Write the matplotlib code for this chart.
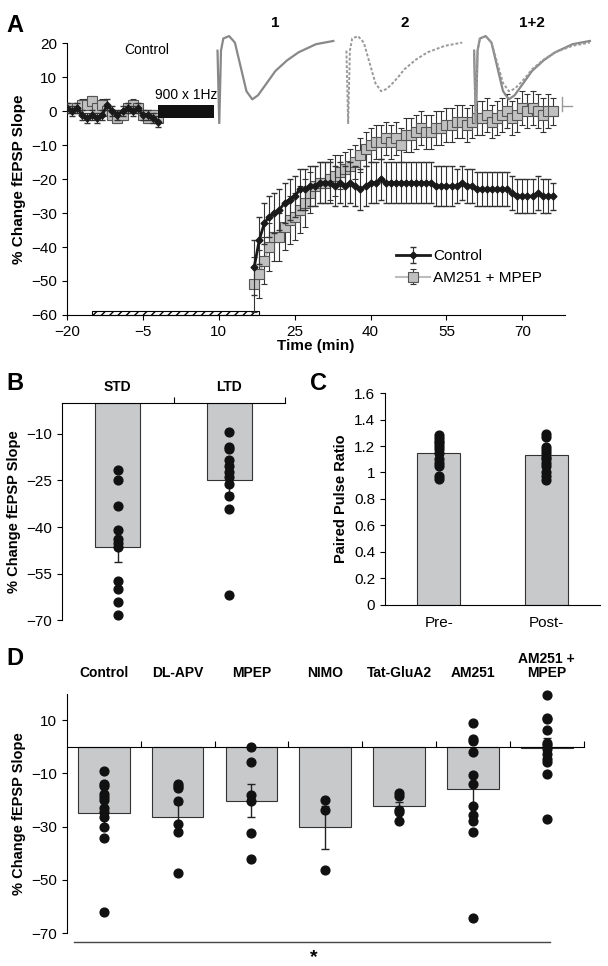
import numpy as np
import matplotlib.pyplot as plt

plt.rcParams['font.family'] = ['Liberation Sans', 'DejaVu Sans']
plt.rcParams['font.size'] = 11

# ---------------- Panel A data ----------------
base_t = list(range(-20, -1))
ctrl_base = [1, 0, 1, -1, -2, -1, -2, -1, 2, 0, -1, 0, 1, 0, 1, -1, -1, -2, -3]
drug_base = [1, 1, 1, 2, 2, 3, 1, 2, 0, -1, -2, -1, 1, 2, 1, -1, -2, -1, -2]
base_err = [1.5] * 19

post_t = list(range(17, 77))
ctrl_post = [-46, -38, -33, -31, -30, -29, -27, -26, -25, -23,
             -23, -22, -22, -21, -21, -21, -22, -21, -22, -21,
             -22, -23, -22, -21, -21, -20, -21, -21, -21, -21,
             -21, -21, -21, -21, -21, -21, -22, -22, -22, -22,
             -22, -21, -22, -22, -23, -23, -23, -23, -23, -23,
             -23, -24, -25, -25, -25, -25, -24, -25, -25, -25]
ctrl_err = [8, 7, 6, 6, 6, 6, 6, 6, 6, 6,
            6, 6, 6, 6, 6, 6, 6, 6, 6, 6,
            6, 6, 6, 6, 6, 6, 6, 6, 6, 6,
            6, 6, 6, 6, 6, 6, 6, 6, 6, 6,
            5, 5, 5, 5, 5, 5, 5, 5, 5, 5,
            5, 5, 5, 5, 5, 5, 5, 5, 5, 4]
drug_post = [-51, -48, -44, -40, -37, -37, -34, -32, -31, -29,
             -27, -24, -22, -21, -21, -20, -19, -18, -17, -16,
             -15, -13, -11, -10, -9, -9, -8, -9, -8, -10,
             -7, -7, -6, -5, -6, -6, -5, -5, -4, -4,
             -3, -3, -4, -3, -2, -2, -1, -3, -2, -1,
             0, -2, -1, 1, 0, 1, 0, -1, 0, 0]
drug_err = [8, 7, 7, 7, 7, 7, 7, 7, 7, 7,
            7, 6, 6, 6, 6, 6, 6, 5, 5, 5,
            5, 5, 5, 5, 5, 5, 5, 5, 5, 5,
            5, 5, 5, 5, 5, 5, 5, 5, 5, 5,
            5, 5, 5, 5, 5, 5, 5, 5, 5, 5,
            5, 5, 5, 5, 5, 5, 5, 5, 5, 4]

# illustrative fEPSP traces (time, amplitude)
trace_t = [0, 0.3, 0.6, 1, 2, 3, 4, 5, 6, 7, 8, 9, 10, 12, 14, 17, 20]
trace1 = [0, -9, 0, 1.5, 1.8, 1, -2, -5, -6, -5.5, -4.5, -3.5, -2.5, -1.2, -0.2, 0.8, 1.2]
trace2 = [0, -9, 0, 1.5, 1.8, 1, -1.5, -4, -5, -4.7, -4, -3.2, -2.3, -1.1, -0.2, 0.6, 1.0]

# ---------------- Panel B data ----------------
b_cats = ['STD', 'LTD']
b_means = [-46.5, -25]
b_err = [4.8, 4]
std_pts = [-21.7, -24.9, -33.3, -41, -43.7, -45.3, -46.4, -57.4, -59.8, -64.1, -68.4]
ltd_pts = [-9.4, -14.2, -14.9, -18.5, -20.4, -22.3, -23.9, -26, -30, -34.3, -61.8]

# ---------------- Panel C data ----------------
c_cats = ['Pre-', 'Post-']
c_means = [1.15, 1.13]
c_err = [0.03, 0.03]
pre_pts = [1.28, 1.26, 1.24, 1.22, 1.2, 1.18, 1.15, 1.1, 1.07, 1.05, 0.97, 0.95]
post_pts = [1.29, 1.27, 1.19, 1.17, 1.15, 1.12, 1.1, 1.07, 1.05, 1.0, 0.97, 0.94]

# ---------------- Panel D data ----------------
d_cats = ['Control', 'DL-APV', 'MPEP', 'NIMO', 'Tat-GluA2', 'AM251', 'AM251 +\nMPEP']
d_means = [-24.7, -26.4, -20.3, -30.3, -22.4, -15.7, -0.5]
d_err = [4.5, 5, 6.2, 8, 1.8, 6, 3.8]
d_pts = [
    [-9.2, -14, -14.8, -17.7, -18.8, -20.1, -23, -24.5, -26.2, -30, -34.3, -62],
    [-14, -14.8, -15.5, -20.4, -29.1, -32.1, -47.3],
    [0, -5.8, -18, -20.3, -32.2, -42.3],
    [-19.9, -23.8, -46.3],
    [-17.4, -18.4, -23.6, -24.4, -27.7],
    [8.8, 3.1, 2.1, -1.9, -10.7, -14, -22.1, -25.5, -27.8, -32.1, -64.2],
    [19.4, 10.8, 10.3, 6.5, 1.5, 0.5, -1, -2.6, -4.4, -5.8, -10.3, -27.2],
]

bar_col = '#c8c9cb'
fig = plt.figure(figsize=(6.08, 9.66), dpi=100)

# ================= A =================
ax = fig.add_axes([0.11, 0.674, 0.82, 0.281])
for seg_t, seg_c, seg_d, seg_ce, seg_de, lab in [
        (base_t, ctrl_base, drug_base, base_err, base_err, True),
        (post_t, ctrl_post, drug_post, ctrl_err, drug_err, False)]:
    ax.errorbar(seg_t, seg_c, yerr=seg_ce,
                color='#1a1a1a', marker='D', ms=3.5, lw=2, capsize=2.5, elinewidth=0.8,
                ecolor='#333333', label='Control' if lab else None, zorder=4)
    ax.errorbar(seg_t, seg_d, yerr=seg_de,
                color='#bdbdbd', marker='s', ms=7, mfc='#c0c0c0', mec='#555555', mew=0.8,
                lw=1.5, capsize=2.5, elinewidth=0.8, ecolor='#333333',
                label='AM251 + MPEP' if lab else None, zorder=3)
ax.barh(-59.4, 33, left=-15, height=1.2, color='white', edgecolor='black',
        hatch='////', lw=0.8, zorder=2, clip_on=False)
ax.barh(0, 11, left=-2, height=4, color='#111111', zorder=5)
ax.text(3.5, 2.8, '900 x 1Hz', ha='center', va='bottom', fontsize=10)
ax.set_xlim(-20, 78.5)
ax.set_ylim(-60, 20)
ax.set_xticks([-20, -5, 10, 25, 40, 55, 70])
ax.set_yticks(range(-60, 21, 10))
for s in ['top', 'right']:
    ax.spines[s].set_visible(False)
ax.set_xlabel('Time (min)', fontweight='bold', labelpad=0)
ax.set_ylabel('% Change fEPSP Slope', fontweight='bold')
leg = ax.legend(loc='lower right', bbox_to_anchor=(0.98, 0.06), frameon=False,
                handlelength=2.2, handletextpad=0.2, labelspacing=0.5, fontsize=11)
fig.text(0.01, 0.985, 'A', fontsize=17, fontweight='bold', va='top')
fig.text(0.205, 0.948, 'Control', fontsize=10, va='center')

for i, (x0, lab) in enumerate([(0.353, '1'), (0.565, '2'), (0.775, '1+2')]):
    ia = fig.add_axes([x0, 0.872, 0.2, 0.094])
    if i in (0, 2):
        ia.plot(trace_t, trace1, color='#888888', lw=1.6)
    if i in (1, 2):
        ia.plot(trace_t, trace2, color='#999999', lw=1.4, ls=(0, (1.5, 1)))
    ia.set_xlim(-0.5, 20.5)
    ia.set_ylim(-9, 2.2)
    ia.axis('off')
    ia.set_title(lab, fontsize=11, fontweight='bold', pad=4)
fig.add_artist(plt.Line2D([0.925, 0.925], [0.885, 0.90], color='#999999', lw=1))
fig.add_artist(plt.Line2D([0.925, 0.94], [0.89, 0.89], color='#999999', lw=1))

# ================= B =================
bx = fig.add_axes([0.102, 0.358, 0.367, 0.225])
xb = np.arange(len(b_cats))
bx.bar(xb, b_means, width=0.4, color=bar_col, edgecolor='#333333', lw=0.8, zorder=2)
bx.errorbar(xb, b_means, yerr=[b_err, [0, 0]], fmt='none', ecolor='#222222',
            capsize=3, lw=1, zorder=3)
for x, pts in zip(xb, [std_pts, ltd_pts]):
    bx.scatter([x] * len(pts), pts, s=40, color='#111111', zorder=4, clip_on=False)
bx.set_xlim(-0.5, 1.5)
bx.set_ylim(-70, 0)
bx.set_yticks([-70, -55, -40, -25, -10])
bx.spines['bottom'].set_position(('data', 0))
bx.spines['right'].set_visible(False)
bx.spines['top'].set_visible(False)
bx.set_xticks([0.5, 1.5])
bx.tick_params(axis='x', direction='in', labelbottom=False, length=4)
for x, c in zip(xb, b_cats):
    bx.text(x, 3, c, ha='center', va='bottom', fontweight='bold', fontsize=10)
bx.set_ylabel('% Change fEPSP Slope', fontweight='bold', fontsize=10.5)
fig.text(0.01, 0.615, 'B', fontsize=17, fontweight='bold', va='top')

# ================= C =================
cx = fig.add_axes([0.633, 0.374, 0.354, 0.219])
xc = np.arange(len(c_cats))
cx.bar(xc, c_means, width=0.4, color=bar_col, edgecolor='#333333', lw=0.8, zorder=2)
cx.errorbar(xc, c_means, yerr=c_err, fmt='none', ecolor='#222222', capsize=3,
            lw=1, zorder=3)
for x, pts in zip(xc, [pre_pts, post_pts]):
    cx.scatter([x] * len(pts), pts, s=40, color='#111111', zorder=4)
cx.set_xlim(-0.5, 1.5)
cx.set_ylim(0, 1.6)
cx.set_yticks(np.arange(0, 1.61, 0.2))
cx.set_yticklabels(['0', '0.2', '0.4', '0.6', '0.8', '1', '1.2', '1.4', '1.6'])
cx.set_xticks(xc)
cx.set_xticklabels(c_cats)
cx.tick_params(axis='x', length=0, pad=8)
for s in ['top', 'right']:
    cx.spines[s].set_visible(False)
cx.set_ylabel('Paired Pulse Ratio', fontweight='bold', fontsize=10.5)
fig.text(0.51, 0.615, 'C', fontsize=17, fontweight='bold', va='top')

# ================= D =================
dx = fig.add_axes([0.11, 0.034, 0.85, 0.248])
xd = np.arange(len(d_cats))
dx.bar(xd, d_means, width=0.7, color=bar_col, edgecolor='#333333', lw=0.8, zorder=2)
dx.errorbar(xd, d_means, yerr=d_err, fmt='none', ecolor='#222222', capsize=3,
            lw=1, zorder=3)
for x, pts in zip(xd, d_pts):
    dx.scatter([x] * len(pts), pts, s=40, color='#111111', zorder=4, clip_on=False)
dx.set_xlim(-0.5, 6.5)
dx.set_ylim(-70, 20)
dx.set_yticks([-70, -50, -30, -10, 10])
dx.spines['bottom'].set_position(('data', 0))
dx.spines['right'].set_visible(False)
dx.spines['top'].set_visible(False)
dx.set_xticks(np.arange(0.5, 7, 1))
dx.tick_params(axis='x', direction='in', labelbottom=False, length=4)
for x, c in zip(xd, d_cats):
    dx.text(x, 25, c, ha='center', va='bottom', fontweight='bold', fontsize=10,
            linespacing=1.0)
dx.plot([-0.4, 6.05], [-73.5, -73.5], color='#444444', lw=1, clip_on=False)
dx.text(2.85, -76, '*', ha='center', va='top', fontsize=14, fontweight='bold')
dx.set_ylabel('% Change fEPSP Slope', fontweight='bold', fontsize=10.5)
fig.text(0.01, 0.33, 'D', fontsize=17, fontweight='bold', va='top')

fig.savefig('out.png', dpi=100)
